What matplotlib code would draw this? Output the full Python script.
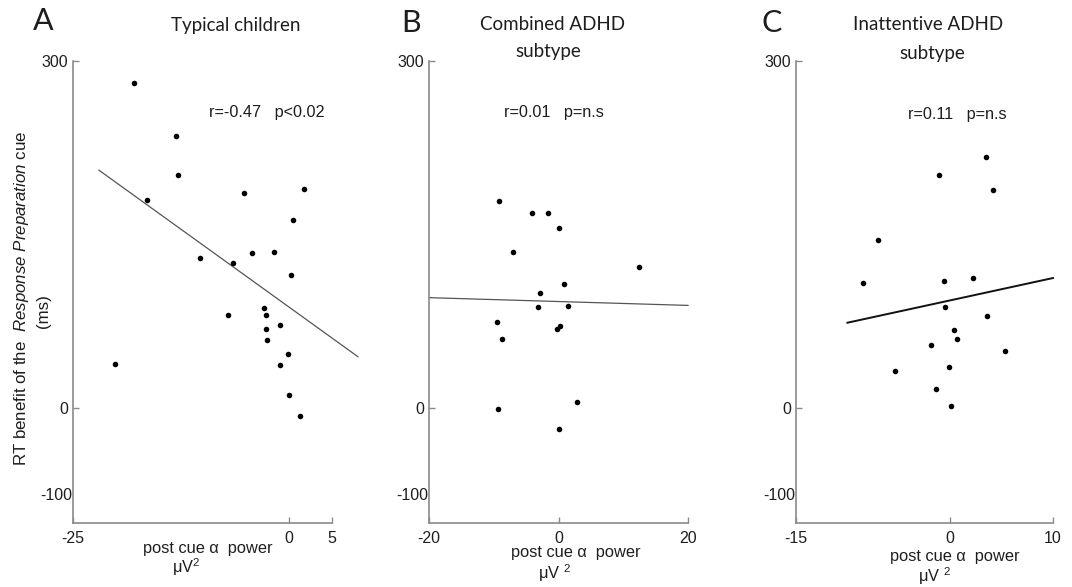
import numpy as np
import matplotlib
matplotlib.use("Agg")
import matplotlib.pyplot as plt

plt.rcParams['font.family'] = ['Liberation Sans', 'DejaVu Sans']
plt.rcParams['mathtext.fontset'] = 'custom'
plt.rcParams['mathtext.rm'] = 'Liberation Sans'
plt.rcParams['mathtext.it'] = 'Liberation Sans:italic'
plt.rcParams['mathtext.bf'] = 'Liberation Sans:bold'

# --- data ---
# A: typical children
a_x = [-17.9, -13.1, -12.8, -16.4, -5.2, 1.7, 0.5, -10.3, -6.5, -4.3, -1.7, 0.2,
       -20.1, -7.1, -2.9, -2.7, -2.7, -1.0, -2.5, -0.15, -1.0, 0.0, 1.3]
a_y = [281, 235, 201, 179.5, 185.6, 189.3, 162, 129.8, 125, 133.8, 134.7, 115,
       37.9, 80, 85.8, 79.8, 68.2, 71.1, 58.4, 46.6, 36.4, 11, -7]
a_fit_x = [-22, 8]
a_fit_y = [205.5, 44]

# B: combined ADHD subtype
b_x = [-9.2, -4.1, -1.6, 0.0, -7.0, 12.4, 0.85, -2.9, -3.1, 1.4, -9.5, -8.65,
       -0.2, 0.2, -9.4, 2.9, 0.0]
b_y = [179.2, 168.2, 168.5, 155.8, 134.7, 121.7, 106.7, 98.8, 87.3, 87.8, 74.3, 59,
       67.9, 70.2, -1.5, 4.6, -18.2]
b_fit_x = [-20, 20]
b_fit_y = [95.1, 88.4]

# C: inattentive ADHD subtype
c_x = [3.5, -1.06, 4.16, -7.0, -8.5, -0.6, 2.2, -0.5, 3.6, 0.4, 0.63, -1.86,
       5.35, -5.4, -0.15, -1.4, 0.1]
c_y = [217, 201.4, 187.9, 145.4, 108.1, 109.5, 112.5, 87, 79.2, 66.8, 59, 53.8,
       49.2, 31.8, 35.3, 16.2, 1.5]
c_fit_x = [-10, 10]
c_fit_y = [73.4, 112.1]

letters = ['A', 'B', 'C']
titles = [['Typical children'], ['Combined ADHD', 'subtype'], ['Inattentive ADHD', 'subtype']]
stats = ['r=-0.47   p<0.02', 'r=0.01   p=n.s', 'r=0.11   p=n.s']
xlims = [(-25, 5), (-20, 20), (-15, 10)]
xticks = [[-25, 0, 5], [-20, 0, 20], [-15, 0, 10]]
ylim = (-100, 300)
yticks = [0, 300]

W, H = 1072, 587
fig = plt.figure(figsize=(W / 100, H / 100), dpi=100)

def fx(x):
    return x / W

def fy(y):
    return 1 - y / H

# axes boxes in pixels: left, right, top, bottom
boxes = [(73, 332, 61, 523), (429, 688, 61, 523), (796, 1053, 61, 523)]
text_pos = [
    dict(letter=(43, 21), title=[(236, 25)], stat=(267, 113), xl1=(208, 549), xl2=(186, 567)),
    dict(letter=(411, 23), title=[(552, 25), (548, 52)], stat=(554, 113), xl1=(576, 553), xl2=(554, 573)),
    dict(letter=(772, 23), title=[(928, 25), (932, 53)], stat=(957, 114), xl1=(955, 556), xl2=(934, 576)),
]
xs = [a_x, b_x, c_x]
ys = [a_y, b_y, c_y]
fits = [(a_fit_x, a_fit_y, '#555555', 0.9), (b_fit_x, b_fit_y, '#555555', 0.9),
        (c_fit_x, c_fit_y, '#111111', 1.4)]
unit2 = ['μV$^{2}$', 'μV $^{2}$', 'μV $^{2}$']

spine_col = '#8a8a8a'
txt_col = '#1e1e1e'
title_font = ['Lato', 'DejaVu Sans']
tsize = 11.5

for i in range(3):
    l, r, t, b = boxes[i]
    ax = fig.add_axes([fx(l), fy(b), (r - l) / W, (b - t) / H])
    ax.scatter(xs[i], ys[i], s=16, color='black', zorder=3, linewidths=0)
    fx_, fy_, fc, fw = fits[i]
    ax.plot(fx_, fy_, color=fc, linewidth=fw, clip_on=False)
    ax.set_xlim(xlims[i])
    ax.set_ylim(ylim)
    ax.set_xticks(xticks[i])
    ax.set_xticklabels([str(v) for v in xticks[i]])
    ax.set_yticks(yticks)
    ax.set_yticklabels([str(v) for v in yticks])
    for s in ['top', 'right']:
        ax.spines[s].set_visible(False)
    for s in ['left', 'bottom']:
        ax.spines[s].set_color(spine_col)
        ax.spines[s].set_linewidth(1.2)
    ax.tick_params(axis='both', direction='in', length=4, width=1, color=spine_col,
                   labelsize=tsize, labelcolor=txt_col)
    ax.tick_params(axis='y', pad=3.5)
    ax.tick_params(axis='x', pad=5.5)
    # the -100 label sits above the bottom corner
    ax.annotate('-100', xy=(0, ylim[0]), xycoords=('axes fraction', 'data'),
                xytext=(-1, 28), textcoords='offset pixels', ha='right', va='center',
                fontsize=tsize, color=txt_col)

    tp = text_pos[i]
    fig.text(fx(tp['letter'][0]), fy(tp['letter'][1]), letters[i], fontsize=22,
             ha='center', va='center', color=txt_col, family=title_font)
    for line, pos in zip(titles[i], tp['title']):
        fig.text(fx(pos[0]), fy(pos[1]), line, fontsize=13.5, ha='center', va='center',
                 color=txt_col, family=title_font)
    fig.text(fx(tp['stat'][0]), fy(tp['stat'][1]), stats[i], fontsize=11.7,
             ha='center', va='center', color=txt_col)
    fig.text(fx(tp['xl1'][0]), fy(tp['xl1'][1]), 'post cue α  power', fontsize=11.8,
             ha='center', va='center', color=txt_col)
    fig.text(fx(tp['xl2'][0]), fy(tp['xl2'][1]), unit2[i], fontsize=11.8,
             ha='center', va='center', color=txt_col)

# shared y label on the left panel
fig.text(fx(22), fy(298), r'RT benefit of the  $\mathit{Response\ Preparation}$ cue',
         rotation=90, fontsize=12.2, ha='center', va='center', color=txt_col)
fig.text(fx(44), fy(311), '(ms)', rotation=90, fontsize=12.2, ha='center', va='center',
         color=txt_col)

plt.savefig('out.png', dpi=100)
